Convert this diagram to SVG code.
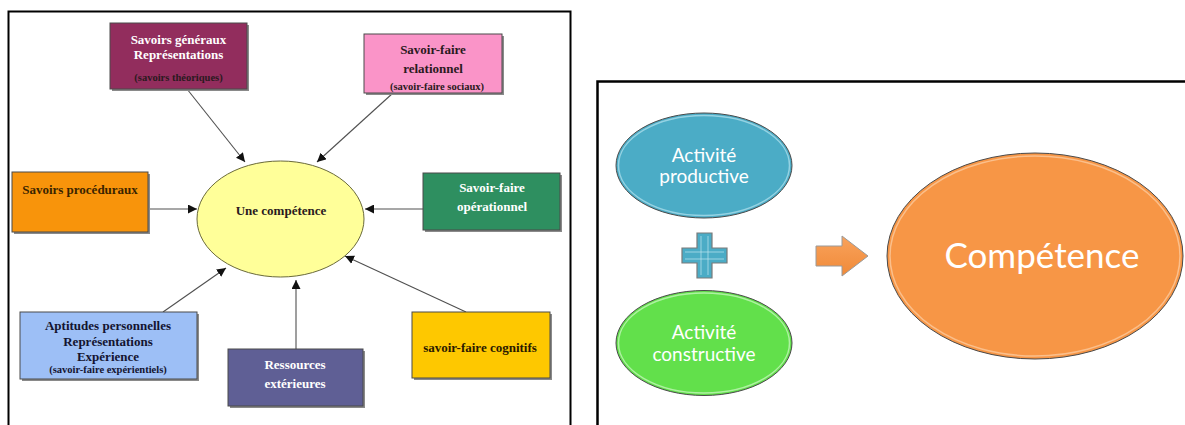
<svg xmlns="http://www.w3.org/2000/svg" width="1185" height="425" viewBox="0 0 1185 425">
<defs>
<style>
.box{stroke:#4a4a4a;stroke-width:1}
.sh{fill:#8a8a8a}
.t{font-family:"Liberation Serif","Times New Roman",serif;font-weight:bold;font-size:13px;text-anchor:middle}
.s{font-size:10.5px}
.w{fill:#ffffff}
.d{fill:#2a1a20}
.conn line{stroke:#505050;stroke-width:1.1;marker-end:url(#ah)}
.c{font-family:Lato,"Open Sans",sans-serif;fill:#ffffff;text-anchor:middle}
</style>
<marker id="ah" viewBox="0 0 10 10" refX="10" refY="5" markerWidth="9" markerHeight="9" markerUnits="userSpaceOnUse" orient="auto">
<path d="M0,0 L10,5 L0,10 z" fill="#111"/>
</marker>
<linearGradient id="og" x1="0" y1="0" x2="0" y2="1">
<stop offset="0" stop-color="#f9a25c"/><stop offset="1" stop-color="#f08a38"/>
</linearGradient>
</defs>
<rect width="1185" height="425" fill="#ffffff"/>
<!-- panels -->
<rect x="8.5" y="11.5" width="562" height="430" fill="none" stroke="#000" stroke-width="2"/>
<rect x="597.5" y="81.5" width="600" height="360" fill="none" stroke="#000" stroke-width="2.5"/>

<g id="connectors" class="conn">
<line x1="187" y1="89" x2="245" y2="162"/>
<line x1="393" y1="93" x2="317" y2="162"/>
<line x1="148" y1="209" x2="197" y2="209"/>
<line x1="423" y1="209" x2="365" y2="209"/>
<line x1="163" y1="312" x2="226" y2="268"/>
<line x1="296" y1="349" x2="296" y2="280"/>
<line x1="466" y1="312" x2="345" y2="256"/>
</g>

<g id="competence-ellipse">
<ellipse cx="280.5" cy="219" rx="83.5" ry="58" fill="#ffff99" stroke="#6a6a3a" stroke-width="1"/>
<text class="t d" x="281" y="214.5">Une compétence</text>
</g>

<g id="savoirs-generaux">
<rect class="sh" x="112" y="25" width="137" height="66"/>
<rect class="box" x="110" y="23" width="137" height="66" fill="#922d5d"/>
<text class="t w" x="178.5" y="43.5" fill="#f6e6ee">Savoirs généraux</text>
<text class="t w" x="178.5" y="58.5">Représentations</text>
<text class="t s d" x="178.5" y="80.5">(savoirs théoriques)</text>
</g>

<g id="savoir-faire-relationnel">
<rect class="sh" x="366" y="36" width="138" height="59"/>
<rect class="box" x="364" y="34" width="138" height="59" fill="#fa94c8"/>
<text class="t d" x="433" y="53.5">Savoir-faire</text>
<text class="t d" x="433" y="72.5">relationnel</text>
<text class="t s d" x="437" y="89.7">(savoir-faire sociaux)</text>
</g>

<g id="savoirs-proceduraux">
<rect class="sh" x="14" y="174" width="136" height="60"/>
<rect class="box" x="12" y="172" width="136" height="60" fill="#f8940b"/>
<text class="t" x="80" y="193.5" fill="#3a2400">Savoirs procéduraux</text>
</g>

<g id="savoir-faire-operationnel">
<rect class="sh" x="425" y="175" width="137" height="57"/>
<rect class="box" x="423" y="173" width="137" height="57" fill="#2e8f60"/>
<text class="t w" x="492" y="191.5">Savoir-faire</text>
<text class="t w" x="492" y="210.5">opérationnel</text>
</g>

<g id="aptitudes-personnelles">
<rect class="sh" x="22" y="314" width="177" height="67"/>
<rect class="box" x="20" y="312" width="177" height="67" fill="#9dbff6"/>
<text class="t" x="108" y="329.5" fill="#141430">Aptitudes personnelles</text>
<text class="t" x="108" y="345.5" fill="#141430">Représentations</text>
<text class="t" x="108" y="360.5" fill="#141430">Expérience</text>
<text class="t s" x="108" y="372.7" fill="#141430">(savoir-faire expérientiels)</text>
</g>

<g id="ressources-exterieures">
<rect class="sh" x="230" y="351" width="135" height="57"/>
<rect class="box" x="228" y="349" width="135" height="57" fill="#5f5f95"/>
<text class="t w" x="295" y="368.5">Ressources</text>
<text class="t w" x="295" y="387.5">extérieures</text>
</g>

<g id="savoir-faire-cognitifs">
<rect class="sh" x="414" y="314" width="138" height="66"/>
<rect class="box" x="412" y="312" width="138" height="66" fill="#fec800"/>
<text class="t" x="480" y="351.5" fill="#2a1a00">savoir-faire cognitifs</text>
</g>

<!-- right panel -->
<g id="activite-productive">
<ellipse cx="704" cy="165.5" rx="88" ry="52.5" fill="#4bacc6" stroke="#4a4a4a" stroke-width="1"/>
<ellipse cx="704" cy="165.5" rx="85.5" ry="50" fill="none" stroke="#a8dcea" stroke-width="1.5" opacity="0.8"/>
<text class="c" x="704" y="162" font-size="19">Activité</text>
<text class="c" x="704" y="183" font-size="19">productive</text>
</g>

<g id="plus">
<path d="M697,233 H712 V248 H727 V263 H712 V278 H697 V263 H682 V248 H697 Z" fill="#4bacc6" stroke="#7a7a7a" stroke-width="1.2"/>
<path d="M701,236 V275 M708,236 V275 M685,252 H724 M685,259 H724" stroke="#bfe6f0" stroke-width="1" fill="none" opacity="0.7"/>
</g>

<g id="arrow">
<path d="M816,246 H842 V236 L868,256 L842,276 V266 H816 Z" fill="url(#og)" stroke="#9a9a9a" stroke-width="1"/>
</g>

<g id="activite-constructive">
<ellipse cx="704" cy="343" rx="88" ry="52.5" fill="#62e04b" stroke="#4a4a4a" stroke-width="1"/>
<ellipse cx="704" cy="343" rx="85.5" ry="50" fill="none" stroke="#c2f5b8" stroke-width="1.5" opacity="0.8"/>
<text class="c" x="704" y="339" font-size="19">Activité</text>
<text class="c" x="704" y="361" font-size="19">constructive</text>
</g>

<g id="competence">
<ellipse cx="1035" cy="256" rx="148" ry="103" fill="#f79646" stroke="#4a4a4a" stroke-width="1"/>
<ellipse cx="1035" cy="256" rx="145" ry="100" fill="none" stroke="#fcd0a8" stroke-width="1.5" opacity="0.7"/>
<text class="c" x="1042" y="268" font-size="35">Compétence</text>
</g>
</svg>
